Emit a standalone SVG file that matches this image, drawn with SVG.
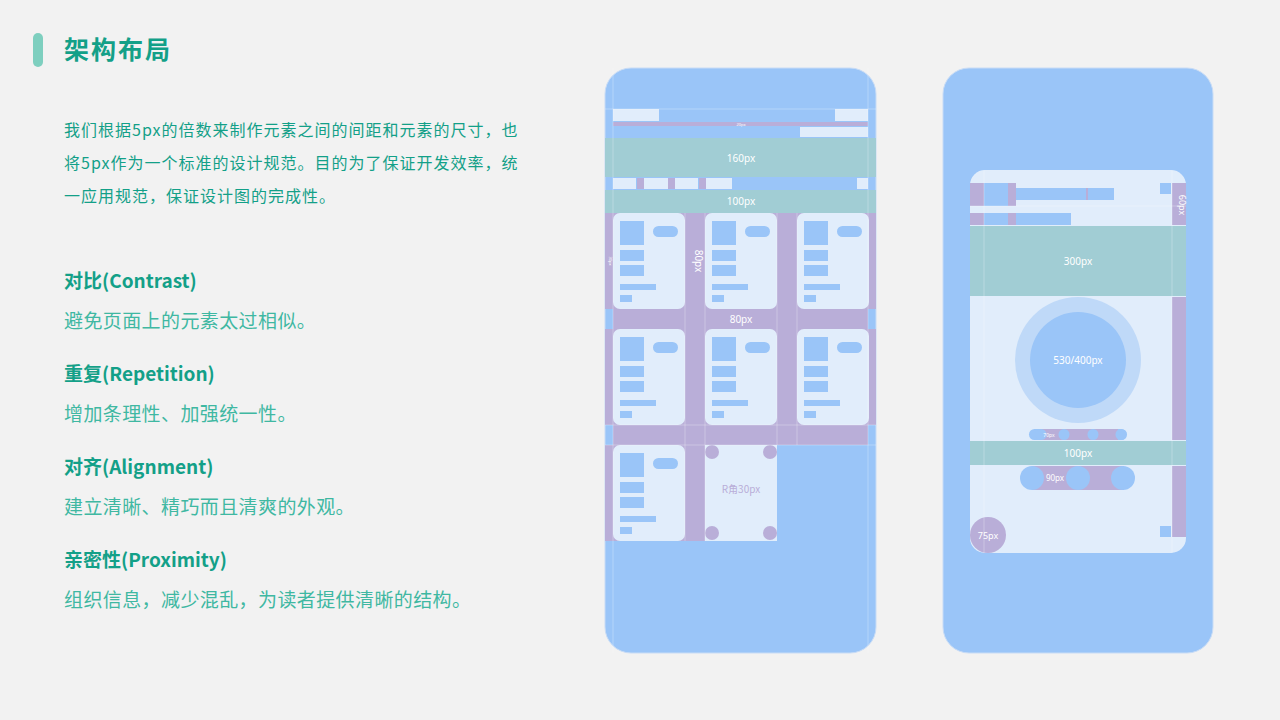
<svg xmlns="http://www.w3.org/2000/svg" width="1280" height="720" viewBox="0 0 1280 720">
<defs>
<style>
.t{font-family:"Noto Sans CJK SC","Noto Sans",sans-serif}
.b{fill:#9ac5f8}.l{fill:#e1edfb}.p{fill:#b9aed8}.g{fill:#a1cdd4}
.w{fill:#fff;font-family:"Noto Sans","Noto Sans CJK SC",sans-serif;text-anchor:middle}
.s{font-size:19px;letter-spacing:0.4px;fill:#3fb8a2}
.h{font-size:19px;font-weight:bold}
.para{font-size:16px;letter-spacing:1px}
</style>
<g id="card">
<rect x="0" y="0" width="72" height="96" rx="7" class="l"/>
<rect x="7" y="8" width="24" height="24" class="b"/>
<rect x="40" y="13" width="25" height="11" rx="5.5" class="b"/>
<rect x="7" y="37" width="24" height="11" class="b"/>
<rect x="7" y="52" width="24" height="11" class="b"/>
<rect x="7" y="71" width="36" height="6" class="b"/>
<rect x="7" y="82" width="12" height="7" class="b"/>
</g>
</defs>
<rect width="1280" height="720" fill="#f2f2f2"/>
<g id="header">
<rect x="33" y="33" width="10" height="34" rx="5" fill="#7ecfbf"/>
<text x="64" y="59" class="t" font-size="25" font-weight="bold" letter-spacing="2" fill="#13a088">架构布局</text>
</g>
<g id="text" class="t" fill="#13a088">
<text x="64" y="136" class="para">我们根据5px的倍数来制作元素之间的间距和元素的尺寸，也</text>
<text x="64" y="169" class="para">将5px作为一个标准的设计规范。目的为了保证开发效率，统</text>
<text x="64" y="202" class="para">一应用规范，保证设计图的完成性。</text>
<text x="64" y="288" class="h">对比(Contrast)</text>
<text x="64" y="328" class="s">避免页面上的元素太过相似。</text>
<text x="64" y="381" class="h">重复(Repetition)</text>
<text x="64" y="421" class="s">增加条理性、加强统一性。</text>
<text x="64" y="474" class="h">对齐(Alignment)</text>
<text x="64" y="514" class="s">建立清晰、精巧而且清爽的外观。</text>
<text x="64" y="567" class="h">亲密性(Proximity)</text>
<text x="64" y="607" class="s">组织信息，减少混乱，为读者提供清晰的结构。</text>
</g>
<g id="phone1">
<rect x="605" y="68" width="271" height="585" rx="26" class="b" stroke="#c8dcf6"/>
<rect x="613" y="109" width="46" height="12" class="l"/>
<rect x="835" y="109" width="33" height="12" class="l"/>
<rect x="613" y="122" width="255" height="4" class="p"/>
<text x="741" y="126" class="w" font-size="4">20px</text>
<rect x="800" y="127" width="68" height="10" class="l"/>
<rect x="605" y="138" width="271" height="39" class="g"/>
<text x="741" y="162" class="w" font-size="10">160px</text>
<rect x="613" y="178" width="23" height="11" class="l"/>
<rect x="637" y="178" width="7" height="11" class="p"/>
<rect x="644" y="178" width="24" height="11" class="l"/>
<rect x="668" y="178" width="7" height="11" class="p"/>
<rect x="675" y="178" width="23" height="11" class="l"/>
<rect x="699" y="178" width="7" height="11" class="p"/>
<rect x="706" y="178" width="26" height="11" class="l"/>
<rect x="857" y="178" width="11" height="11" class="l"/>
<rect x="605" y="190" width="271" height="23" class="g"/>
<text x="741" y="205" class="w" font-size="10">100px</text>
<rect x="605" y="213" width="271" height="96" class="p"/>
<rect x="613" y="309" width="255" height="20" class="p"/>
<rect x="605" y="329" width="271" height="96" class="p"/>
<rect x="613" y="425" width="255" height="20" class="p"/>
<rect x="605" y="445" width="172" height="96" class="p"/>
<rect x="705" y="445" width="72" height="96" class="l"/>
<text x="741" y="323" class="w" font-size="10">80px</text>
<text x="695" y="261" class="w" font-size="10" transform="rotate(90 695 261)">80px</text>
<text x="609" y="261" class="w" font-size="4" transform="rotate(90 609 261)">30px</text>
<use href="#card" x="613" y="213"/><use href="#card" x="705" y="213"/><use href="#card" x="797" y="213"/>
<use href="#card" x="613" y="329"/><use href="#card" x="705" y="329"/><use href="#card" x="797" y="329"/>
<use href="#card" x="613" y="445"/>
<g class="p"><circle cx="712" cy="452" r="7"/><circle cx="770" cy="452" r="7"/><circle cx="712" cy="533" r="7"/><circle cx="770" cy="533" r="7"/></g>
<text x="741" y="493" font-size="10" fill="#b9aed8" text-anchor="middle" class="t">R角30px</text>
<g stroke="#fff" stroke-opacity="0.35" stroke-width="0.8"><line x1="613" y1="68" x2="613" y2="653"/><line x1="868" y1="68" x2="868" y2="653"/><line x1="605" y1="109" x2="876" y2="109"/><line x1="685" y1="213" x2="685" y2="541"/><line x1="705" y1="213" x2="705" y2="541"/><line x1="777" y1="213" x2="777" y2="445"/><line x1="797" y1="213" x2="797" y2="445"/><line x1="605" y1="445" x2="876" y2="445"/><line x1="605" y1="425" x2="876" y2="425"/></g>
</g>
<g id="phone2">
<rect x="943" y="68" width="270" height="585" rx="26" class="b" stroke="#c8dcf6"/>
<rect x="970" y="170" width="216" height="383" rx="15" class="l"/>
<rect x="970" y="183" width="14" height="23" class="p"/>
<rect x="984" y="183" width="24" height="23" class="b"/>
<rect x="1008" y="183" width="8" height="23" class="p"/>
<rect x="1016" y="188" width="98" height="12" class="b"/>
<rect x="1086" y="188" width="2" height="12" class="p"/>
<rect x="970" y="213" width="14" height="12" class="p"/>
<rect x="984" y="213" width="24" height="12" class="b"/>
<rect x="1008" y="213" width="8" height="12" class="p"/>
<rect x="1016" y="213" width="55" height="12" class="b"/>
<rect x="1160" y="183" width="11" height="11" class="b"/>
<rect x="1172" y="183" width="14" height="42" class="p"/>
<text x="1179" y="205" class="w" font-size="9" transform="rotate(90 1179 205)">60px</text>
<rect x="970" y="226" width="216" height="70" class="g"/>
<text x="1078" y="265" class="w" font-size="10">300px</text>
<rect x="1172" y="297" width="14" height="143" class="p"/>
<rect x="1172" y="466" width="14" height="71" class="p"/>
<circle cx="1078" cy="360" r="63" fill="#bfd9f8"/>
<circle cx="1078" cy="360" r="48" class="b"/>
<text x="1078" y="364" class="w" font-size="10">530/400px</text>
<rect x="1029" y="429" width="98" height="11" rx="5.5" class="b"/>
<rect x="1040" y="429" width="78" height="11" class="p"/>
<g class="b"><circle cx="1041" cy="434.5" r="5.5"/><circle cx="1064" cy="434.5" r="5.5"/><circle cx="1093" cy="434.5" r="5.5"/><circle cx="1121" cy="434.5" r="5.5"/></g>
<text x="1049" y="437" class="w" font-size="5">70px</text>
<rect x="970" y="441" width="216" height="24" class="g"/>
<text x="1078" y="457" class="w" font-size="10">100px</text>
<rect x="1032" y="466" width="92" height="24" class="p"/>
<g class="b"><circle cx="1032" cy="478" r="12"/><circle cx="1078" cy="478" r="12"/><circle cx="1123" cy="478" r="12"/></g>
<text x="1055" y="481" class="w" font-size="8">90px</text>
<circle cx="988" cy="535" r="18" class="p"/>
<text x="988" y="539" class="w" font-size="9">75px</text>
<rect x="1160" y="526" width="11" height="11" class="b"/>
<g stroke="#fff" stroke-opacity="0.35" stroke-width="0.8"><line x1="984" y1="170" x2="984" y2="553"/><line x1="1172" y1="170" x2="1172" y2="553"/><line x1="970" y1="206" x2="1186" y2="206"/></g>
</g>
</svg>
